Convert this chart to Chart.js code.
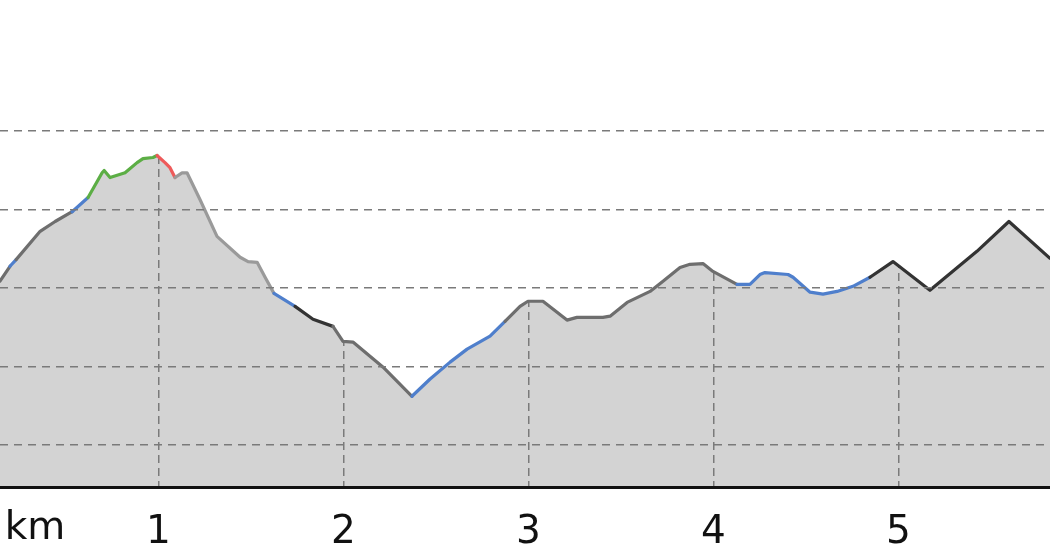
<!DOCTYPE html>
<html lang="en">
<head>
  <meta charset="UTF-8">
  <title>Elevation profile</title>
  <script src="https://cdn.jsdelivr.net/npm/chart.js"></script>
  <style>
    html, body {
      margin: 0;
      padding: 0;
      background: #ffffff;
    }

    #wrap {
      width: 1050px;
      height: 560px;
      position: relative;
    }
  </style>
</head>
<body>

  <div id="wrap"><canvas id="profileChart"></canvas></div>

  <script>
    // distance along the track (km) and elevation (m)
    const distKm = [
      0.144, 0.198, 0.231, 0.361, 0.442, 0.534, 0.620, 0.696, 0.707, 0.739,
      0.820, 0.885, 0.917, 0.971, 0.993, 1.036, 1.063, 1.090, 1.128, 1.155,
      1.225, 1.317, 1.442, 1.485, 1.534, 1.577, 1.625, 1.739, 1.836, 1.944,
      1.998, 2.052, 2.215, 2.295, 2.371, 2.469, 2.577, 2.669, 2.793, 2.874,
      2.955, 2.998, 3.079, 3.209, 3.263, 3.403, 3.442, 3.534, 3.658, 3.728,
      3.820, 3.874, 3.944, 3.998, 4.128, 4.198, 4.252, 4.279, 4.404, 4.431,
      4.523, 4.593, 4.669, 4.755, 4.847, 4.971, 5.171, 5.425, 5.598, 5.820
    ];
    const elevation = [
      261.7, 265.5, 267.2, 274.4, 276.9, 279.4, 283.0, 289.3, 289.9, 288.1,
      289.3, 291.9, 292.9, 293.2, 293.7, 291.9, 290.6, 288.1, 289.3, 289.3,
      282.5, 273.1, 267.8, 266.7, 266.5, 262.7, 258.6, 255.3, 252.0, 250.2,
      246.4, 246.2, 239.8, 236.0, 232.4, 236.8, 241.1, 244.4, 247.7, 251.5,
      255.3, 256.6, 256.6, 251.8, 252.5, 252.5, 252.8, 256.3, 259.1, 261.7,
      265.2, 266.0, 266.2, 264.2, 260.9, 260.9, 263.4, 263.9, 263.4, 262.7,
      258.9, 258.4, 259.1, 260.4, 262.7, 266.7, 259.4, 269.3, 276.9, 267.5
    ];
    // track class of the stretch that starts at each point
    const trackClass = [
      'path', 'trail', 'path', 'path', 'path', 'trail', 'climb', 'climb', 'climb', 'climb',
      'climb', 'climb', 'climb', 'climb', 'steep', 'steep', 'steep', 'gravel', 'gravel', 'gravel',
      'gravel', 'gravel', 'gravel', 'gravel', 'gravel', 'gravel', 'trail', 'road', 'road', 'path',
      'path', 'path', 'path', 'path', 'trail', 'trail', 'trail', 'trail', 'trail', 'path',
      'path', 'path', 'path', 'path', 'path', 'path', 'path', 'path', 'path', 'path',
      'path', 'path', 'path', 'path', 'trail', 'trail', 'trail', 'trail', 'trail', 'trail',
      'trail', 'trail', 'trail', 'trail', 'road', 'road', 'road', 'road', 'road', 'road'
    ];
    const kmTicks = [1, 2, 3, 4, 5];
    const elevTicks = [220, 240, 260, 280, 300];

    const classColors = {
      path: '#6e6e6e',
      gravel: '#9a9a9a',
      road: '#333333',
      trail: '#4f7fcc',
      climb: '#5cae45',
      steep: '#ee5a5a'
    };

    const labelFont = { family: 'DejaVu Sans', size: 39 };

    // grey ground under the profile, the white fill above the line hides the km grid there
    const groundPlugin = {
      id: 'ground',
      beforeDraw(chart) {
        const a = chart.chartArea;
        const ctx = chart.ctx;
        ctx.save();
        ctx.fillStyle = '#d3d3d3';
        ctx.fillRect(a.left, a.top, a.right - a.left, a.bottom - a.top);
        ctx.restore();
      },
      afterDraw(chart) {
        const ctx = chart.ctx;
        const x = chart.scales.x;
        ctx.save();
        ctx.font = '39px "DejaVu Sans"';
        ctx.fillStyle = '#111111';
        ctx.textAlign = 'center';
        ctx.textBaseline = 'top';
        ctx.fillText('km', 35, x.top + 22);
        ctx.restore();
      }
    };

    const points = distKm.map((d, i) => ({ x: d, y: elevation[i] }));

    const ctx = document.getElementById('profileChart').getContext('2d');

    new Chart(ctx, {
      type: 'line',
      data: {
        datasets: [{
          // sky above the profile
          data: points,
          borderWidth: 0,
          backgroundColor: '#ffffff',
          fill: 'end',
          pointRadius: 0,
          tension: 0,
          order: 2
        }, {
          data: points,
          borderWidth: 3.2,
          borderJoinStyle: 'round',
          borderCapStyle: 'round',
          fill: false,
          pointRadius: 0,
          tension: 0,
          order: 1,
          segment: {
            borderColor: c => classColors[trackClass[c.p0DataIndex]]
          }
        }]
      },
      options: {
        responsive: true,
        maintainAspectRatio: false,
        animation: false,
        layout: { padding: 0 },
        plugins: {
          legend: { display: false },
          tooltip: { enabled: false }
        },
        scales: {
          x: {
            type: 'linear',
            min: 0.144,
            max: 5.82,
            afterBuildTicks: s => { s.ticks = kmTicks.map(v => ({ value: v })); },
            afterFit: s => { s.height = 73; },
            grid: {
              color: '#7a7a7a',
              lineWidth: 1.5,
              drawTicks: false
            },
            border: {
              display: true,
              color: '#111111',
              width: 3,
              dash: [8, 5]
            },
            ticks: {
              padding: 22,
              color: '#111111',
              font: labelFont,
              maxRotation: 0,
              autoSkip: false
            }
          },
          y: {
            min: 209.3,
            max: 333.3,
            afterBuildTicks: s => { s.ticks = elevTicks.map(v => ({ value: v })); },
            afterFit: s => { s.width = 0; },
            grid: {
              color: '#7a7a7a',
              lineWidth: 1.5,
              drawTicks: false,
              z: 1
            },
            border: { display: false, dash: [8, 6] },
            ticks: { display: false }
          }
        }
      },
      plugins: [groundPlugin]
    });
  </script>

</body>
</html>
